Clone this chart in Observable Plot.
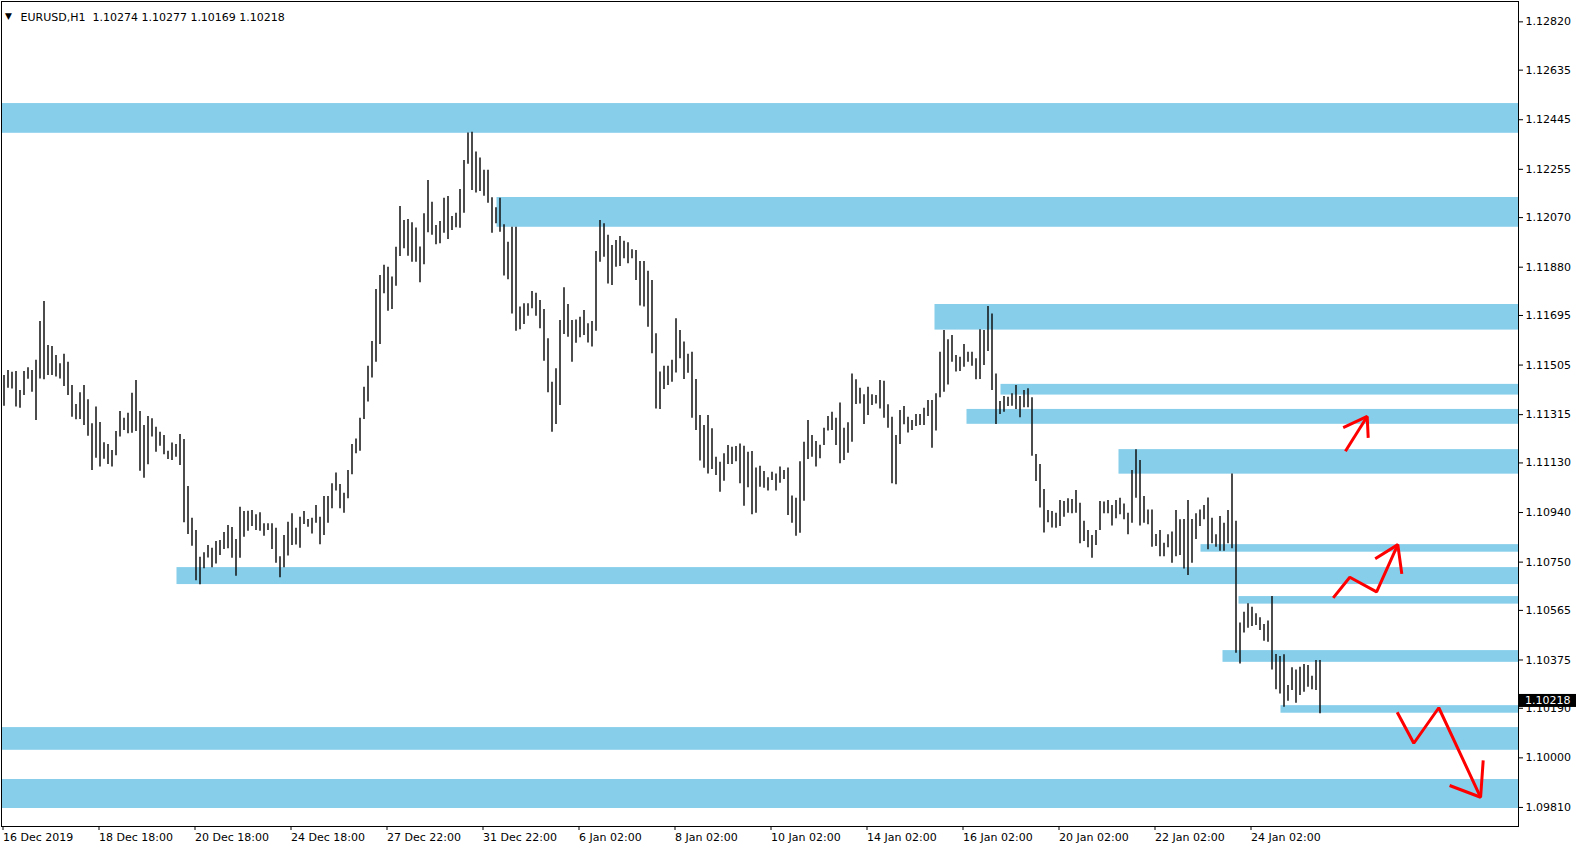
<!DOCTYPE html>
<html><head><meta charset="utf-8">
<script src="https://cdn.jsdelivr.net/npm/d3@7"></script>
<script src="https://cdn.jsdelivr.net/npm/@observablehq/plot@0.6"></script>
<style>
html,body{margin:0;padding:0;background:#fff;overflow:hidden}
#chart svg{display:block}
</style></head><body><div id="chart"></div>
<script>
// ---- data ----
const symbolName = "EURUSD,H1";
const lastBarOHLC = [1.10274, 1.10277, 1.10169, 1.10218];

// each entry covers two H1 bars (hours 2k and 2k+1)
const barHigh = [
1.11465,1.11484,1.11477,1.11480,1.11408,1.11480,1.11495,1.11484,1.11523,1.11672,
1.11749,1.11580,1.11576,1.11542,1.11510,1.11546,1.11516,1.11427,1.11354,1.11399,
1.11427,1.11372,1.11280,1.11344,1.11285,1.11207,1.11201,1.11178,1.11250,1.11327,
1.11301,1.11320,1.11397,1.11446,1.11327,1.11273,1.11308,1.11299,1.11267,1.11248,
1.11235,1.11175,1.11206,1.11201,1.11239,1.11220,1.11040,1.10918,1.10871,1.10769,
1.10786,1.10814,1.10803,1.10829,1.10833,1.10863,1.10890,1.10883,1.10837,1.10960,
1.10944,1.10945,1.10948,1.10931,1.10939,1.10897,1.10897,1.10897,1.10880,1.10771,
1.10852,1.10903,1.10935,1.10880,1.10922,1.10944,1.10913,1.10918,1.10967,1.10922,
1.11001,1.11001,1.11050,1.11091,1.11047,1.11014,1.11101,1.11201,1.11222,1.11301,
1.11420,1.11500,1.11595,1.11795,1.11848,1.11887,1.11880,1.11842,1.11956,1.12113,
1.12059,1.12063,1.12050,1.12030,1.11957,1.12085,1.12212,1.12129,1.12040,1.12055,
1.12144,1.12151,1.12074,1.12087,1.12178,1.12289,1.12394,1.12397,1.12321,1.12298,
1.12251,1.12251,1.12146,1.12108,1.12144,1.12043,1.11976,1.12033,1.12033,1.11727,
1.11740,1.11740,1.11787,1.11780,1.11752,1.11718,1.11606,1.11439,1.11491,1.11676,
1.11801,1.11737,1.11676,1.11678,1.11688,1.11714,1.11663,1.11672,1.11940,1.12059,
1.12046,1.12002,1.11963,1.11982,1.11998,1.11979,1.11974,1.11947,1.11944,1.11902,
1.11902,1.11864,1.11829,1.11625,1.11478,1.11500,1.11500,1.11523,1.11682,1.11637,
1.11593,1.11546,1.11554,1.11450,1.11312,1.11273,1.11312,1.11261,1.11152,1.11133,
1.11165,1.11197,1.11190,1.11193,1.11203,1.11194,1.11171,1.11174,1.11111,1.11117,
1.11097,1.11073,1.11094,1.11088,1.11114,1.11101,1.11111,1.11003,1.10995,1.11135,
1.11209,1.11293,1.11235,1.11212,1.11198,1.11263,1.11308,1.11324,1.11301,1.11360,
1.11263,1.11284,1.11471,1.11449,1.11416,1.11391,1.11420,1.11391,1.11388,1.11446,
1.11443,1.11353,1.11305,1.11235,1.11331,1.11346,1.11305,1.11293,1.11316,1.11316,
1.11340,1.11369,1.11369,1.11395,1.11554,1.11637,1.11602,1.11618,1.11542,1.11535,
1.11584,1.11554,1.11554,1.11529,1.11640,1.11637,1.11729,1.11701,1.11471,1.11365,
1.11385,1.11382,1.11395,1.11427,1.11385,1.11408,1.11414,1.11380,1.11162,1.11124,
1.11028,1.10948,1.10944,1.10937,1.10986,1.10982,1.10993,1.10990,1.11024,1.10976,
1.10907,1.10871,1.10852,1.10871,1.10982,1.10980,1.10986,1.10967,1.10986,1.10995,
1.10973,1.10937,1.11101,1.11181,1.11139,1.11001,1.10950,1.10950,1.10856,1.10871,
1.10822,1.10855,1.10865,1.10948,1.10912,1.10913,1.10986,1.10913,1.10935,1.10950,
1.10967,1.10996,1.10918,1.10855,1.10925,1.10899,1.10948,1.11088,1.10907,1.10517,
1.10558,1.10590,1.10577,1.10552,1.10537,1.10511,1.10524,1.10618,1.10396,1.10388,
1.10395,1.10277,1.10345,1.10337,1.10347,1.10358,1.10354,1.10313,1.10373,1.10373
];
const barLow = [
1.11347,1.11416,1.11413,1.11344,1.11340,1.11388,1.11451,1.11401,1.11293,1.11452,
1.11449,1.11465,1.11465,1.11459,1.11452,1.11423,1.11388,1.11305,1.11295,1.11296,
1.11273,1.11232,1.11101,1.11148,1.11114,1.11144,1.11124,1.11114,1.11158,1.11229,
1.11254,1.11242,1.11244,1.11250,1.11098,1.11071,1.11123,1.11229,1.11171,1.11194,
1.11161,1.11143,1.11139,1.11152,1.11120,1.10901,1.10856,1.10811,1.10679,1.10663,
1.10725,1.10766,1.10728,1.10743,1.10775,1.10798,1.10801,1.10765,1.10696,1.10765,
1.10845,1.10868,1.10886,1.10871,1.10868,1.10849,1.10871,1.10798,1.10746,1.10690,
1.10728,1.10773,1.10814,1.10816,1.10803,1.10894,1.10884,1.10858,1.10899,1.10817,
1.10852,1.10899,1.10954,1.11022,1.10954,1.10937,1.10993,1.11085,1.11165,1.11175,
1.11296,1.11363,1.11455,1.11516,1.11584,1.11778,1.11711,1.11718,1.11807,1.11921,
1.11951,1.11922,1.11899,1.11899,1.11820,1.11889,1.12012,1.12002,1.11966,1.11970,
1.12010,1.11986,1.12021,1.12031,1.12029,1.12087,1.12274,1.12174,1.12164,1.12170,
1.12152,1.12125,1.12010,1.12046,1.12014,1.11846,1.11832,1.11701,1.11635,1.11640,
1.11660,1.11692,1.11721,1.11692,1.11644,1.11520,1.11399,1.11248,1.11277,1.11350,
1.11622,1.11612,1.11516,1.11589,1.11610,1.11618,1.11590,1.11574,1.11635,1.11899,
1.11918,1.11816,1.11810,1.11880,1.11883,1.11912,1.11893,1.11912,1.11829,1.11731,
1.11727,1.11650,1.11548,1.11337,1.11335,1.11411,1.11427,1.11439,1.11475,1.11529,
1.11450,1.11474,1.11301,1.11254,1.11137,1.11110,1.11088,1.11105,1.11082,1.11018,
1.11060,1.11124,1.11124,1.11135,1.11050,1.10964,1.11035,1.10931,1.10937,1.11037,
1.11033,1.11022,1.11063,1.11022,1.11052,1.11067,1.10929,1.10899,1.10849,1.10861,
1.10983,1.11143,1.11152,1.11114,1.11146,1.11197,1.11252,1.11254,1.11197,1.11127,
1.11139,1.11167,1.11209,1.11354,1.11356,1.11277,1.11312,1.11350,1.11356,1.11337,
1.11301,1.11263,1.11050,1.11046,1.11201,1.11276,1.11245,1.11254,1.11270,1.11273,
1.11273,1.11308,1.11186,1.11252,1.11380,1.11401,1.11429,1.11516,1.11478,1.11480,
1.11497,1.11516,1.11500,1.11449,1.11450,1.11503,1.11557,1.11408,1.11277,1.11316,
1.11324,1.11346,1.11347,1.11335,1.11303,1.11341,1.11341,1.11156,1.11059,1.10957,
1.10862,1.10901,1.10881,1.10880,1.10886,1.10922,1.10937,1.10935,1.10937,1.10820,
1.10829,1.10805,1.10765,1.10814,1.10871,1.10935,1.10935,1.10888,1.10916,1.10931,
1.10912,1.10855,1.10899,1.10995,1.10888,1.10899,1.10893,1.10807,1.10810,1.10771,
1.10771,1.10805,1.10746,1.10771,1.10775,1.10724,1.10699,1.10746,1.10837,1.10886,
1.10912,1.10797,1.10820,1.10807,1.10792,1.10792,1.10820,1.10801,1.10401,1.10360,
1.10478,1.10497,1.10503,1.10507,1.10488,1.10447,1.10443,1.10337,1.10261,1.10245,
1.10194,1.10217,1.10258,1.10209,1.10239,1.10251,1.10271,1.10261,1.10258,1.10169
];

const timeTickHours = [0,48,96,144,192,240,288,336,384,432,480,528,576,624];
const timeTickLabels = ["16 Dec 2019","18 Dec 18:00","20 Dec 18:00","24 Dec 18:00","27 Dec 22:00",
  "31 Dec 22:00","6 Jan 02:00","8 Jan 02:00","10 Jan 02:00","14 Jan 02:00","16 Jan 02:00",
  "20 Jan 02:00","22 Jan 02:00","24 Jan 02:00"];
const priceTicks = [1.12820,1.12635,1.12445,1.12255,1.12070,1.11880,1.11695,1.11505,1.11315,
  1.11130,1.10940,1.10750,1.10565,1.10375,1.10190,1.10000,1.09810];

// support / resistance zones (start hour; null = from chart start)
const zoneFrom = [null, 247, 466, 499, 482, 558, 599, 87, 618, 610, 639, null, null];
const zoneHigh = [1.12507,1.12147,1.11737,1.11431,1.11335,1.11181,1.10817,1.10729,1.10618,1.10411,1.10200,1.10116,1.09917];
const zoneLow  = [1.12393,1.12033,1.11639,1.11390,1.11278,1.11087,1.10788,1.10664,1.10589,1.10366,1.10171,1.10029,1.09806];

// hand-drawn red arrows
const arrowId    = ["a1","a1","a2","a2","a2","b1","b1","b1","b1","b2","b2","b2","c1","c1","c1","c1","c2","c2","c2"];
const arrowHour  = [671.2,682.1, 670.1,682.1,682.6, 665.1,673.4,686.8,697.4, 686.1,697.4,699.4, 697.1,705.4,717.9,738.8, 723.3,738.8,740.1];
const arrowPrice = [1.11175,1.11308, 1.11265,1.11308,1.11226, 1.10613,1.10692,1.10636,1.10817, 1.10763,1.10817,1.10705, 1.10175,1.10056,1.10192,1.09849, 1.09894,1.09849,1.09990];

// ---- build tables ----
const bars = barHigh.map((h, k) => ({t: 2 * k + 0.5, high: h, low: barLow[k]}));
const xDomain = [-0.75, 757.75];
const zones = zoneHigh.map((h, i) => ({from: zoneFrom[i] ?? xDomain[0], high: h, low: zoneLow[i]}));
const arrows = arrowId.map((id, i) => ({id, t: arrowHour[i], price: arrowPrice[i]}));
const labelByHour = new Map(timeTickHours.map((h, i) => [h, timeTickLabels[i]]));
const fmt = d3.format(".5f");

const chart = Plot.plot({
  width: 1582, height: 850,
  marginLeft: 1, marginTop: 1, marginRight: 64, marginBottom: 24,
  style: {fontFamily: "DejaVu Sans", fontSize: "11px", color: "#000", background: "#fff", overflow: "visible"},
  x: {domain: xDomain, axis: null},
  y: {domain: [1.09737, 1.12898], axis: null},
  marks: [
    Plot.rect(zones, {x1: "from", x2: () => xDomain[1], y1: "low", y2: "high", fill: "#87CEEB"}),
    Plot.ruleX(bars, {x: "t", y1: "low", y2: "high", stroke: "#111", strokeWidth: 1.5}),
    Plot.line(arrows, {x: "t", y: "price", z: "id", stroke: "#ff0000", strokeWidth: 3, strokeLinejoin: "miter", strokeLinecap: "butt"}),
    Plot.frame({stroke: "#000"}),
    Plot.axisY({anchor: "right", ticks: priceTicks, tickFormat: fmt, tickSize: 4, tickPadding: 3, fill: "#000"}),
    Plot.axisX({ticks: timeTickHours, tickFormat: d => labelByHour.get(d), tickSize: 4, tickPadding: 3, textAnchor: "start", dx: 0, fill: "#000"}),
    Plot.text(["\u25BC"], {text: d => d, frameAnchor: "top-left", dx: 7, dy: 11, fontSize: 9, textAnchor: "middle"}),
    Plot.text([`${symbolName}  ${lastBarOHLC.map(fmt).join(" ")}`], {text: d => d, frameAnchor: "top-left", dx: 19, dy: 11.5, textAnchor: "start"})
  ]
});
document.getElementById("chart").appendChild(chart);

// current price marker on the price axis
const yNow = chart.scale("y").apply(lastBarOHLC[3]);
const svg = d3.select(chart);
svg.append("rect").attr("x", 1519).attr("y", yNow - 6.5).attr("width", 57).attr("height", 13).attr("fill", "#000");
svg.append("text").attr("x", 1525).attr("y", yNow).attr("dy", "0.35em").attr("text-anchor", "start")
  .attr("fill", "#fff").attr("font-family", "DejaVu Sans").attr("font-size", 11).text(fmt(lastBarOHLC[3]));
</script></body></html>
